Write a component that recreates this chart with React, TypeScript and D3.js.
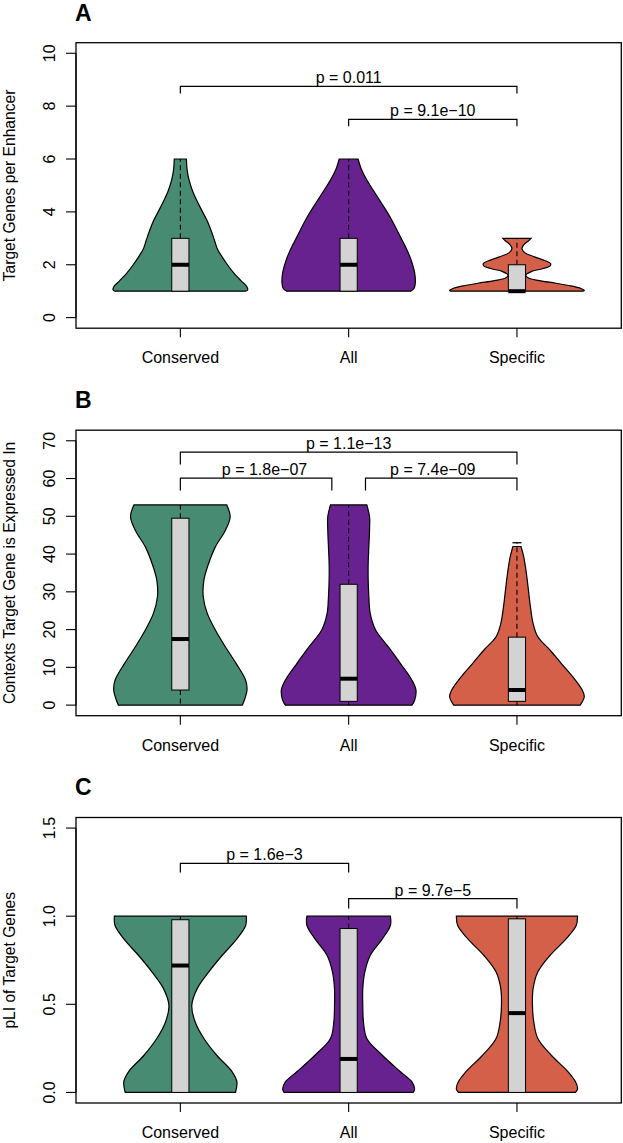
import React from 'react';
import * as d3 from 'd3';

const categories = ['Conserved', 'All', 'Specific'];
const colors = ['#478b73', '#68228f', '#d4604a'];

// ---- Panel A: Target Genes per Enhancer ----
const ticksA = [0, 2, 4, 6, 8, 10];
// [value, relative half-width] density outlines
const violinA_Conserved: [number, number][] = [[1.0, 0.97], [1.05, 1.0], [1.2, 0.98], [1.4, 0.9], [1.7, 0.79], [2.0, 0.7], [2.3, 0.62], [2.6, 0.55], [2.9, 0.51], [3.2, 0.47], [3.6, 0.41], [4.0, 0.33], [4.4, 0.25], [4.8, 0.18], [5.2, 0.13], [5.6, 0.1], [6.0, 0.09]];
const violinA_All: [number, number][] = [[1.0, 0.92], [1.1, 0.97], [1.3, 0.99], [1.7, 0.98], [2.0, 0.95], [2.3, 0.91], [2.6, 0.86], [2.9, 0.8], [3.2, 0.74], [3.6, 0.66], [4.0, 0.57], [4.4, 0.47], [4.8, 0.37], [5.2, 0.27], [5.6, 0.19], [6.0, 0.14]];
const violinA_Specific: [number, number][] = [[1.0, 0.98], [1.03, 1.0], [1.1, 0.95], [1.2, 0.8], [1.3, 0.58], [1.4, 0.33], [1.5, 0.17], [1.6, 0.13], [1.75, 0.22], [1.85, 0.38], [1.95, 0.49], [2.05, 0.5], [2.15, 0.42], [2.3, 0.26], [2.45, 0.12], [2.6, 0.075], [2.75, 0.1], [2.9, 0.17], [3.0, 0.21]];
// [whiskerLow, q1, median, q3, whiskerHigh]
const boxA_Conserved = [1, 1, 2, 3, 6];
const boxA_All = [1, 1, 2, 3, 6];
const boxA_Specific = [1, 1, 1, 2, 3];

// ---- Panel B: Contexts Target Gene is Expressed In ----
const ticksB = [0, 10, 20, 30, 40, 50, 60, 70];
const violinB_Conserved: [number, number][] = [[0, 0.92], [1.3, 0.95], [4, 0.99], [6.6, 0.97], [11, 0.83], [15.4, 0.67], [19.9, 0.52], [24.3, 0.4], [28.7, 0.34], [33.1, 0.35], [37.5, 0.42], [41.9, 0.52], [46.3, 0.67], [49.9, 0.74], [53, 0.69]];
const violinB_All: [number, number][] = [[0, 0.94], [1.3, 0.98], [4, 1.0], [6.6, 0.94], [11, 0.77], [15.4, 0.59], [19.9, 0.4], [24.3, 0.32], [28.7, 0.3], [33.1, 0.29], [37.5, 0.29], [41.9, 0.3], [46.3, 0.31], [49.9, 0.31], [53, 0.27]];
const violinB_Specific: [number, number][] = [[0, 0.94], [2.2, 1.0], [4, 0.97], [7.5, 0.83], [11, 0.66], [14.6, 0.49], [18.1, 0.31], [21.6, 0.24], [26, 0.2], [30.5, 0.17], [34.9, 0.14], [39.3, 0.1], [42, 0.06]];
const boxB_Conserved = [0, 4, 17.5, 49.5, 53];
const boxB_All = [0, 1, 7, 32, 53];
const boxB_Specific = [0, 1, 4, 18, 43];

// ---- Panel C: pLI of Target Genes ----
const ticksC = [0, 0.5, 1.0, 1.5];
const violinC_Conserved: [number, number][] = [[0, 0.82], [0.06, 0.84], [0.117, 0.77], [0.211, 0.54], [0.306, 0.35], [0.4, 0.22], [0.494, 0.17], [0.589, 0.25], [0.683, 0.42], [0.777, 0.62], [0.871, 0.84], [0.947, 0.97], [1.0, 0.98]];
const violinC_All: [number, number][] = [[0, 0.96], [0.02, 0.98], [0.06, 0.94], [0.117, 0.77], [0.211, 0.5], [0.306, 0.27], [0.4, 0.22], [0.494, 0.21], [0.589, 0.21], [0.683, 0.24], [0.777, 0.32], [0.871, 0.5], [0.947, 0.62], [1.0, 0.62]];
const violinC_Specific: [number, number][] = [[0, 0.87], [0.02, 0.9], [0.06, 0.87], [0.117, 0.76], [0.211, 0.51], [0.306, 0.31], [0.4, 0.25], [0.494, 0.23], [0.589, 0.24], [0.683, 0.31], [0.777, 0.49], [0.871, 0.73], [0.947, 0.88], [1.0, 0.9]];
const boxC_Conserved = [0, 0, 0.72, 0.98, 1];
const boxC_All = [0, 0, 0.19, 0.93, 1];
const boxC_Specific = [0, 0, 0.45, 0.985, 1];

type Bracket = { from: number; to: number; y: number; drop: number; label: string; mid: number };
const bracketsA: Bracket[] = [
  { from: 1, to: 3, y: 8.75, drop: 0.27, label: 'p = 0.011', mid: 2 },
  { from: 2, to: 3, y: 7.5, drop: 0.26, label: 'p = 9.1e\u221210', mid: 2.5 },
];
const bracketsB: Bracket[] = [
  { from: 1, to: 3, y: 67, drop: 3.3, label: 'p = 1.1e\u221213', mid: 2 },
  { from: 1, to: 1.9, y: 60.1, drop: 3.3, label: 'p = 1.8e\u221207', mid: 1.5 },
  { from: 2.1, to: 3, y: 60.1, drop: 3.3, label: 'p = 7.4e\u221209', mid: 2.5 },
];
const bracketsC: Bracket[] = [
  { from: 1, to: 2, y: 1.3, drop: 0.052, label: 'p = 1.6e\u22123', mid: 1.5 },
  { from: 2, to: 3, y: 1.1, drop: 0.056, label: 'p = 9.7e\u22125', mid: 2.5 },
];

const FONT = '"Liberation Sans", Arial, Helvetica, sans-serif';
const LEFT = 76;
const RIGHT = 621.3;
const TOP = 42.7;
const BOTTOM = 328.2;

type PanelProps = {
  offset: number;
  letter: string;
  yLabel: string;
  ymax: number;
  ticks: number[];
  fmt: (v: number) => string;
  violins: [number, number][][];
  boxes: number[][];
  brackets: Bracket[];
};

function Panel({ offset, letter, yLabel, ymax, ticks, fmt, violins, boxes, brackets }: PanelProps) {
  const x = d3.scaleLinear().domain([0.38, 3.62]).range([LEFT, RIGHT]);
  const pad = ymax * 0.04;
  const y = d3.scaleLinear().domain([-pad, ymax + pad]).range([BOTTOM, TOP]);
  const halfMax = x(1.4) - x(1);
  const boxHalf = 8.6;

  return (
    <g transform={`translate(0,${offset})`}>
      <text x={LEFT - 1} y={20.5} fontFamily={FONT} fontWeight="bold" fontSize={23}>{letter}</text>
      {violins.map((v, i) => {
        const cx = x(i + 1);
        const area = d3
          .area<[number, number]>()
          .y((d) => y(d[0]))
          .x0((d) => cx - d[1] * halfMax)
          .x1((d) => cx + d[1] * halfMax)
          .curve(d3.curveCatmullRom.alpha(0.5));
        const b = boxes[i];
        const vmax = d3.max(v, (d) => d[0]) as number;
        return (
          <g key={i}>
            <path d={area(v) || ''} fill={colors[i]} stroke="#000" strokeWidth={1.2} />
            {b[4] > b[3] && (
              <line x1={cx} x2={cx} y1={y(b[3])} y2={y(b[4])} stroke="#000" strokeWidth={1.1} strokeDasharray="5,3.5" />
            )}
            {b[1] > b[0] && (
              <line x1={cx} x2={cx} y1={y(b[1])} y2={y(b[0])} stroke="#000" strokeWidth={1.1} strokeDasharray="5,3.5" />
            )}
            {b[4] > vmax && (
              <line x1={cx - 4.5} x2={cx + 4.5} y1={y(b[4])} y2={y(b[4])} stroke="#000" strokeWidth={1.3} />
            )}
            <rect x={cx - boxHalf} y={y(b[3])} width={boxHalf * 2} height={y(b[1]) - y(b[3])} fill="#d3d3d3" stroke="#000" strokeWidth={1} />
            <line x1={cx - boxHalf} x2={cx + boxHalf} y1={y(b[2])} y2={y(b[2])} stroke="#000" strokeWidth={4} />
          </g>
        );
      })}
      <rect x={LEFT} y={TOP} width={RIGHT - LEFT} height={BOTTOM - TOP} fill="none" stroke="#000" strokeWidth={1.3} />
      {ticks.map((t) => (
        <g key={t}>
          <line x1={LEFT - 10} x2={LEFT} y1={y(t)} y2={y(t)} stroke="#000" strokeWidth={1.1} />
          <text transform={`translate(55,${y(t)}) rotate(-90)`} textAnchor="middle" fontFamily={FONT} fontSize={16}>{fmt(t)}</text>
        </g>
      ))}
      <line x1={LEFT} x2={LEFT} y1={y(ticks[0])} y2={y(ticks[ticks.length - 1])} stroke="#000" strokeWidth={1.1} />
      {categories.map((c, i) => (
        <g key={c}>
          <line x1={x(i + 1)} x2={x(i + 1)} y1={BOTTOM} y2={BOTTOM + 9} stroke="#000" strokeWidth={1.1} />
          <text x={x(i + 1)} y={363} textAnchor="middle" fontFamily={FONT} fontSize={16}>{c}</text>
        </g>
      ))}
      <text transform={`translate(14.5,${(TOP + BOTTOM) / 2}) rotate(-90)`} textAnchor="middle" fontFamily={FONT} fontSize={15.6}>{yLabel}</text>
      {brackets.map((br, k) => {
        const yl = y(br.y);
        const yd = y(br.y - br.drop);
        return (
          <g key={k}>
            <path d={`M${x(br.from)},${yd}V${yl}H${x(br.to)}V${yd}`} fill="none" stroke="#000" strokeWidth={1.2} />
            <text x={x(br.mid)} y={yl - 3} textAnchor="middle" fontFamily={FONT} fontSize={16}>{br.label}</text>
          </g>
        );
      })}
    </g>
  );
}

export default function App() {
  return (
    <svg width={623} height={1143} style={{ position: 'absolute', left: 0, top: 0, background: '#fff' }}>
      <rect width={623} height={1143} fill="#fff" />
      <Panel
        offset={0}
        letter="A"
        yLabel="Target Genes per Enhancer"
        ymax={10}
        ticks={ticksA}
        fmt={(v) => String(v)}
        violins={[violinA_Conserved, violinA_All, violinA_Specific]}
        boxes={[boxA_Conserved, boxA_All, boxA_Specific]}
        brackets={bracketsA}
      />
      <Panel
        offset={387.5}
        letter="B"
        yLabel="Contexts Target Gene is Expressed In"
        ymax={70}
        ticks={ticksB}
        fmt={(v) => String(v)}
        violins={[violinB_Conserved, violinB_All, violinB_Specific]}
        boxes={[boxB_Conserved, boxB_All, boxB_Specific]}
        brackets={bracketsB}
      />
      <Panel
        offset={774.8}
        letter="C"
        yLabel="pLI of Target Genes"
        ymax={1.5}
        ticks={ticksC}
        fmt={(v) => v.toFixed(1)}
        violins={[violinC_Conserved, violinC_All, violinC_Specific]}
        boxes={[boxC_Conserved, boxC_All, boxC_Specific]}
        brackets={bracketsC}
      />
    </svg>
  );
}
